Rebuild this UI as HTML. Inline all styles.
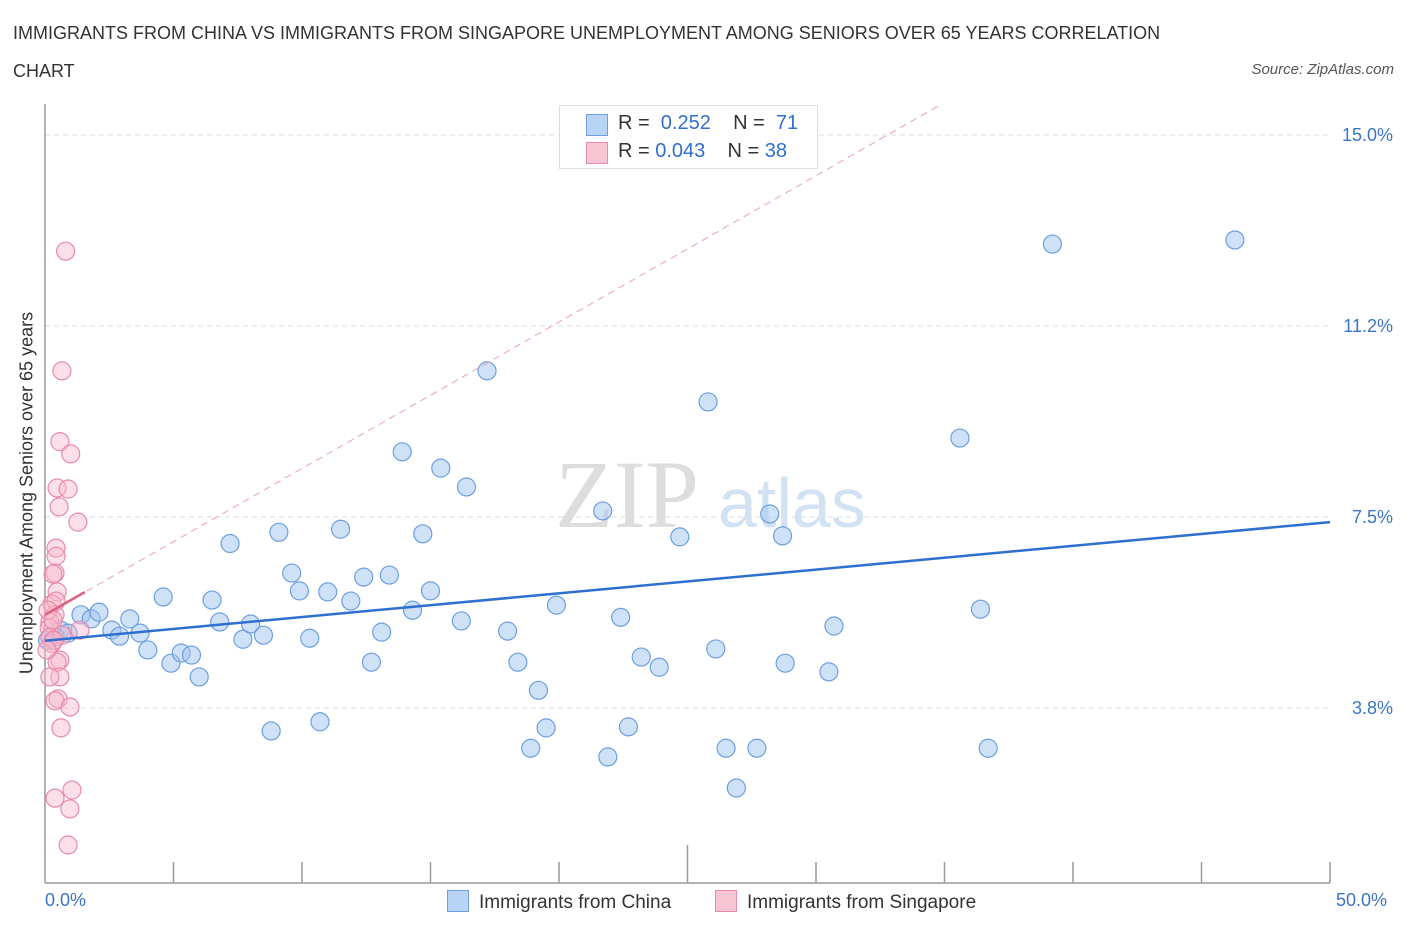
<!DOCTYPE html>
<html><head><meta charset="utf-8"><style>
body{margin:0;background:#fff;font-family:"Liberation Sans",sans-serif;}
.t{position:absolute;}
</style></head><body>
<div style="position:relative;width:1406px;height:930px;overflow:hidden">
<div class="t" style="left:13px;top:14px;font-size:18px;color:#333;line-height:38px;width:1195px">IMMIGRANTS FROM CHINA VS IMMIGRANTS FROM SINGAPORE UNEMPLOYMENT AMONG SENIORS OVER 65 YEARS CORRELATION CHART</div>
<div class="t" style="right:12px;top:61px;font-size:15px;color:#555;font-style:italic">Source: ZipAtlas.com</div>
<svg id="svg" width="1406" height="930" style="position:absolute;left:0;top:0"></svg>
</div>
<script>
const chinaX=[0.6,0.9,1.4,1.8,2.1,2.6,2.9,3.3,3.7,4.0,4.6,4.9,5.3,5.7,6.0,6.5,6.8,7.2,7.7,8.0,8.5,8.8,9.1,9.6,9.9,10.3,10.7,11.0,11.5,11.9,12.4,12.7,13.1,13.4,13.9,14.3,14.7,15.0,15.4,16.2,16.4,17.2,18.0,18.4,18.9,19.2,19.5,19.9,21.7,21.9,22.4,22.7,23.2,23.9,24.7,25.8,26.1,26.5,26.9,27.7,28.2,28.7,28.8,30.5,30.7,35.6,36.4,36.7,39.2,46.3,0.4,0.1];
const chinaY=[5.28,5.22,5.58,5.50,5.63,5.28,5.16,5.50,5.22,4.89,5.93,4.63,4.83,4.79,4.36,5.87,5.44,6.98,5.10,5.40,5.18,3.30,7.20,6.40,6.05,5.12,3.48,6.03,7.26,5.85,6.32,4.65,5.24,6.36,8.78,5.67,7.17,6.05,8.46,5.46,8.09,10.37,5.26,4.65,2.96,4.098,3.36,5.77,7.62,2.79,5.53,3.38,4.75,4.55,7.11,9.76,4.91,2.96,2.18,2.96,7.56,7.13,4.63,4.46,5.36,9.05,5.69,2.96,12.86,12.94,5.14,5.08];
const sgX=[0.8,0.66,0.58,1.0,0.47,0.9,0.55,1.28,0.43,0.43,0.39,0.31,0.47,0.27,0.43,0.39,0.19,0.16,1.36,0.19,0.27,0.58,0.47,0.58,0.19,0.51,0.39,0.97,0.62,1.05,0.39,0.97,0.9,0.12,0.66,0.35,0.08,0.31];
const sgY=[12.72,10.37,8.98,8.74,8.07,8.05,7.70,7.40,6.89,6.73,6.40,6.38,6.03,5.79,5.85,5.58,5.44,5.32,5.28,5.14,5.02,4.69,4.65,4.36,4.36,3.93,3.89,3.77,3.36,2.14,1.98,1.77,1.06,5.67,5.18,5.08,4.89,5.48];
const yTicks=[3.75,7.5,11.25,15];
const yTickLabels=["3.8%","7.5%","11.2%","15.0%"];
const blueLine=[5.07,7.40];
const pinkLine=[5.58,19.95];
const X=v=>45+v*25.7, Y=v=>899-v*50.93;
const svg=document.getElementById('svg');const NS='http://www.w3.org/2000/svg';
function mk(t,a,p){const e=document.createElementNS(NS,t);for(const k in a)e.setAttribute(k,a[k]);(p||svg).appendChild(e);return e;}
yTicks.forEach((v,i)=>{
 const g=mk('line',{x1:45,x2:1330,y1:Y(v),y2:Y(v),stroke:'#ddd','stroke-dasharray':'5,4'});
 
 
 const t=mk('text',{x:1393,y:Y(v)+6,'text-anchor':'end','font-size':18,fill:'#3a75c4','font-family':'Liberation Sans'});
 t.textContent=yTickLabels[i];
 
 
});
const ax=mk('line',{x1:45,x2:45,y1:104,y2:883,stroke:'#999','stroke-width':1.5});


const bx=mk('line',{x1:45,x2:1330,y1:883,y2:883,stroke:'#999','stroke-width':1.5});


for(let i=1;i<=10;i++){const l=mk('line',{x1:X(i*5),x2:X(i*5),y1:i==5?845:862,y2:883,stroke:'#999','stroke-width':1.5});
 
 }
const wm=mk('text',{x:555,y:527,'font-size':96,fill:'#ddd','font-family':'Liberation Serif'});wm.textContent='ZIP';


const wm2=mk('text',{x:718,y:527,'font-size':70,fill:'#d3e2f3','font-family':'Liberation Sans'});wm2.textContent='atlas';


const cp=mk('clipPath',{id:'c'});mk('rect',{x:45,y:104,width:1290,height:780},cp);
chinaX.forEach((v,i)=>{const c=mk('circle',{cx:X(v),cy:Y(chinaY[i]),r:9,fill:'rgba(160,196,240,0.5)',stroke:'#6b9fe0','stroke-width':1.2});
 
 });
sgX.forEach((v,i)=>{const c=mk('circle',{cx:X(v),cy:Y(sgY[i]),r:9,fill:'rgba(248,185,205,0.45)',stroke:'#e88aab','stroke-width':1.2});
 
 });
const bl=mk('line',{x1:X(0),y1:Y(blueLine[0]),x2:X(50),y2:Y(blueLine[1]),stroke:'#2f6fd0','stroke-width':2.5});


const pd=mk('line',{x1:X(0),y1:Y(pinkLine[0]),x2:X(50),y2:Y(pinkLine[1]),stroke:'#eaa0b8','stroke-width':1,'stroke-dasharray':'7,5','clip-path':'url(#c)'});


const ps=mk('line',{x1:X(0),y1:Y(pinkLine[0]),x2:X(1.55),y2:Y(pinkLine[0]+(pinkLine[1]-pinkLine[0])*1.55/50),stroke:'#e0607f','stroke-width':2.5});


</script>
<div class="t" style="left:45px;top:890px;font-size:18px;color:#3a75c4">0.0%</div>
<div class="t" style="left:1336px;top:890px;font-size:18px;color:#3a75c4">50.0%</div>
<div class="t" style="left:27px;top:493px;font-size:18px;color:#333;white-space:nowrap;transform:translate(-50%,-50%) rotate(-90deg)">Unemployment Among Seniors over 65 years</div>
<div class="t" style="left:559px;top:105px;width:257px;height:62px;border:1px solid #ddd;background:#fff;font-size:20px;color:#333">
 <div style="position:absolute;left:26px;top:8px;width:20px;height:20px;background:#b9d3f5;border:1px solid #6b9fe0"></div>
 <div style="position:absolute;left:58px;top:6px">R = &nbsp;<span style="color:#2f6fd0">0.252</span>&nbsp;&nbsp;&nbsp; N = &nbsp;<span style="color:#2f6fd0">71</span></div>
 <div style="position:absolute;left:26px;top:36px;width:20px;height:20px;background:#f8c5d5;border:1px solid #e88aab"></div>
 <div style="position:absolute;left:58px;top:34px">R = <span style="color:#2f6fd0">0.043</span>&nbsp;&nbsp;&nbsp; N = <span style="color:#2f6fd0">38</span></div>
</div>
<div class="t" style="left:447px;top:890px;font-size:19px;color:#333"><span style="display:inline-block;width:20px;height:20px;background:#b9d3f5;border:1px solid #6b9fe0;vertical-align:-4px;margin-right:10px"></span>Immigrants from China</div>
<div class="t" style="left:715px;top:890px;font-size:19px;color:#333"><span style="display:inline-block;width:20px;height:20px;background:#f8c5d5;border:1px solid #e88aab;vertical-align:-4px;margin-right:10px"></span>Immigrants from Singapore</div>
</body></html>
